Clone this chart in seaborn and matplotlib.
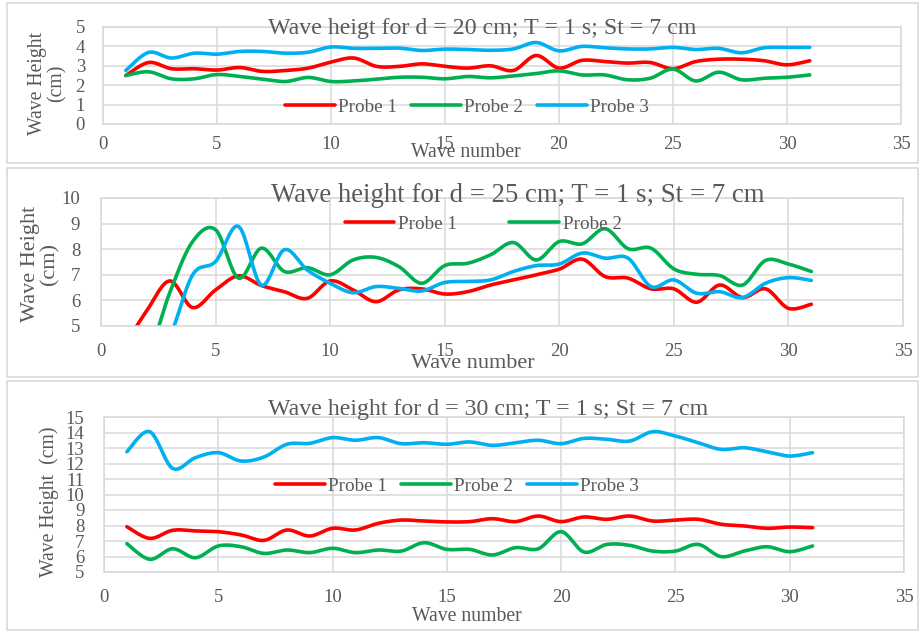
import numpy as np
import pandas as pd
import matplotlib
matplotlib.use("Agg")
import matplotlib.pyplot as plt
from matplotlib.patches import Rectangle
import seaborn as sns

# ---------------- data ----------------
waves = list(range(1, 32))

# d = 20 cm
p1_d20 = [2.50, 3.17, 2.85, 2.85, 2.78, 2.91, 2.71, 2.76, 2.88, 3.19, 3.40, 2.97, 2.97, 3.10, 2.97,
          2.88, 3.00, 2.76, 3.53, 2.88, 3.28, 3.22, 3.14, 3.17, 2.85, 3.22, 3.34, 3.34, 3.26, 3.05, 3.26]
p2_d20 = [2.50, 2.69, 2.33, 2.33, 2.55, 2.45, 2.31, 2.19, 2.40, 2.19, 2.22, 2.31, 2.41, 2.41, 2.33,
          2.45, 2.38, 2.48, 2.60, 2.74, 2.53, 2.53, 2.28, 2.36, 2.83, 2.22, 2.67, 2.28, 2.36, 2.41, 2.53]
p3_d20 = [2.76, 3.69, 3.40, 3.65, 3.60, 3.74, 3.74, 3.65, 3.70, 3.97, 3.90, 3.90, 3.91, 3.79, 3.86,
          3.84, 3.80, 3.87, 4.20, 3.77, 4.00, 3.93, 3.87, 3.87, 3.95, 3.84, 3.90, 3.67, 3.93, 3.95, 3.95]

# d = 25 cm
p1_d25 = [4.20, 5.60, 6.76, 5.72, 6.41, 6.96, 6.58, 6.34, 6.08, 6.76, 6.41, 5.95, 6.41, 6.45, 6.25,
          6.34, 6.60, 6.80, 7.00, 7.22, 7.61, 6.93, 6.87, 6.45, 6.45, 5.93, 6.60, 6.11, 6.45, 5.69, 5.85]
p2_d25 = [3.00, 3.70, 6.30, 8.30, 8.76, 6.87, 8.04, 7.13, 7.28, 7.00, 7.58, 7.68, 7.32, 6.67, 7.36,
          7.45, 7.78, 8.26, 7.58, 8.30, 8.21, 8.80, 8.02, 8.04, 7.23, 7.02, 6.97, 6.60, 7.56, 7.42, 7.13]
p3_d25 = [3.00, 3.50, 4.60, 7.00, 7.52, 8.89, 6.60, 7.98, 7.19, 6.67, 6.30, 6.54, 6.47, 6.37, 6.70,
          6.74, 6.80, 7.13, 7.36, 7.42, 7.85, 7.65, 7.65, 6.54, 6.80, 6.28, 6.34, 6.11, 6.67, 6.89, 6.78]

# d = 30 cm
p1_d30 = [7.92, 7.17, 7.69, 7.65, 7.60, 7.39, 7.04, 7.71, 7.32, 7.82, 7.71, 8.14, 8.35, 8.29, 8.23,
          8.25, 8.44, 8.25, 8.61, 8.25, 8.55, 8.40, 8.61, 8.29, 8.35, 8.40, 8.08, 7.97, 7.82, 7.90, 7.86]
p2_d30 = [6.83, 5.82, 6.50, 5.92, 6.68, 6.63, 6.20, 6.42, 6.25, 6.53, 6.25, 6.42, 6.35, 6.89, 6.46,
          6.46, 6.10, 6.57, 6.50, 7.60, 6.29, 6.78, 6.72, 6.35, 6.35, 6.78, 5.99, 6.35, 6.63, 6.31, 6.68]
p3_d30 = [12.76, 14.05, 11.69, 12.38, 12.70, 12.16, 12.42, 13.24, 13.30, 13.67, 13.50, 13.67, 13.28, 13.34, 13.24,
          13.39, 13.17, 13.34, 13.50, 13.28, 13.62, 13.56, 13.45, 14.05, 13.77, 13.34, 12.91, 13.02, 12.76, 12.48, 12.70]

probe_names = ["Probe 1", "Probe 2", "Probe 3"]
titles = ["Wave heigt for d = 20 cm; T = 1 s; St = 7 cm",
          "Wave height for d = 25 cm; T = 1 s; St = 7 cm",
          "Wave height for d = 30 cm; T = 1 s; St = 7 cm"]
ylabels = ["Wave Height\n(cm)", "Wave Height\n(cm)", "Wave Height  (cm)"]
xlabel = "Wave number"
x_ticks = [0, 5, 10, 15, 20, 25, 30, 35]

# ---------------- style ----------------
sns.set_theme(style="white")
plt.rcParams["font.family"] = ["Liberation Serif", "DejaVu Serif"]
TXT = "#595959"
GRID = "#D9D9D9"
colors = ["#FF0000", "#00B050", "#00B0F0"]

W, H = 920, 632
fig = plt.figure(figsize=(W / 100, H / 100), dpi=100)
fig.patch.set_facecolor("white")


def fx(px):
    return px / W


def fy(py):
    return 1 - py / H


def smooth_curve(x, y, n=20):
    """Excel-like smoothed line (Catmull-Rom Bezier) through the data points."""
    x = np.asarray(x, float)
    y = np.asarray(y, float)
    P = np.column_stack([x, y])
    Pext = np.vstack([P[0], P, P[-1]])
    t = np.linspace(0, 1, n, endpoint=False)[:, None]
    out = []
    for i in range(len(P) - 1):
        p0, p3 = Pext[i + 1], Pext[i + 2]
        c1 = p0 + (Pext[i + 2] - Pext[i]) / 6
        c2 = p3 - (Pext[i + 3] - Pext[i + 1]) / 6
        seg = ((1 - t) ** 3) * p0 + 3 * ((1 - t) ** 2) * t * c1 + 3 * (1 - t) * t ** 2 * c2 + t ** 3 * p3
        out.append(seg)
    out.append(P[-1][None, :])
    out = np.vstack(out)
    return out[:, 0], out[:, 1]


# panel layout (pixel coords): axes box, frame box, text positions
panels = [
    dict(series=[p1_d20, p2_d20, p3_d20], ylim=(0, 5), yticks=list(range(0, 6)),
         ax=(103, 27, 901, 124), frame=(7, 3, 918, 163),
         title=(482, 34, 17.2), xlab=(466, 157, 14.2), ylab=(47, 83, 14.2),
         leg=(467, 107, 0.7, 3), xpad=9, ypad=13),
    dict(series=[p1_d25, p2_d25, p3_d25], ylim=(5, 10), yticks=list(range(5, 11)),
         ax=(101, 198, 903, 326), frame=(7, 168, 918, 377),
         title=(518, 202, 19.3), xlab=(473, 368, 16), ylab=(40, 264, 16),
         leg=(483, 224, 2.7, 2), xpad=12, ypad=15),
    dict(series=[p1_d30, p2_d30, p3_d30], ylim=(5, 15), yticks=list(range(5, 16)),
         ax=(104, 417, 904, 572), frame=(7, 381, 918, 630),
         title=(488, 415, 17.2), xlab=(467, 621, 14.2), ylab=(49, 502, 14.2),
         leg=(457, 486, 0.7, 3), xpad=12, ypad=14),
]

for pi, p in enumerate(panels):
    # chart frame
    x0, y0, x1, y1 = p["frame"]
    fig.patches.append(Rectangle((fx(x0), fy(y1)), fx(x1 - x0), (y1 - y0) / H,
                                 transform=fig.transFigure, fill=False,
                                 edgecolor=GRID, lw=1.2, zorder=0))
    l, t, r, b = p["ax"]
    ax = fig.add_axes([fx(l), fy(b), fx(r - l), (b - t) / H])
    ax.set_facecolor("none")

    for name, vals, c in zip(probe_names, p["series"], colors):
        sx, sy = smooth_curve(waves, vals)
        df = pd.DataFrame({"x": sx, "y": sy})
        sns.lineplot(data=df, x="x", y="y", ax=ax, color=c, lw=2.6, sort=False,
                     estimator=None, label=name)

    ax.set_xlim(0, 35)
    ax.set_ylim(*p["ylim"])
    ax.set_xticks(x_ticks)
    ax.set_yticks(p["yticks"])
    ax.grid(True, color=GRID, lw=1.1)
    for s in ax.spines.values():
        s.set_color(GRID)
        s.set_linewidth(1.1)
    ax.tick_params(axis="both", length=0, labelsize=13.5, labelcolor=TXT)
    ax.tick_params(axis="x", pad=p["xpad"])
    ax.tick_params(axis="y", pad=p["ypad"])
    ax.set_xlabel("")
    ax.set_ylabel("")

    # legend
    lx, ly, cs, nent = p["leg"]
    handles, labels = ax.get_legend_handles_labels()
    leg = ax.legend(handles[:nent], labels[:nent], loc="center",
                    bbox_to_anchor=(fx(lx), fy(ly)), bbox_transform=fig.transFigure,
                    ncol=nent, frameon=False, handlelength=2.6, handletextpad=0.2,
                    columnspacing=cs, fontsize=13.8, borderpad=0, borderaxespad=0)
    for txt in leg.get_texts():
        txt.set_color(TXT)

    # title
    tx, ty, ts = p["title"]
    fig.text(fx(tx), fy(ty), titles[pi], ha="center", va="baseline",
             fontsize=ts, color=TXT)
    # x label
    xx, xy_, xs = p["xlab"]
    fig.text(fx(xx), fy(xy_), xlabel, ha="center", va="baseline",
             fontsize=xs, color=TXT)
    # y label
    yx, yy, ys = p["ylab"]
    fig.text(fx(yx), fy(yy), ylabels[pi], ha="center", va="center", rotation=90,
             multialignment="center", fontsize=ys, color=TXT, linespacing=1.0)

fig.savefig("out.png", dpi=100, facecolor="white")
